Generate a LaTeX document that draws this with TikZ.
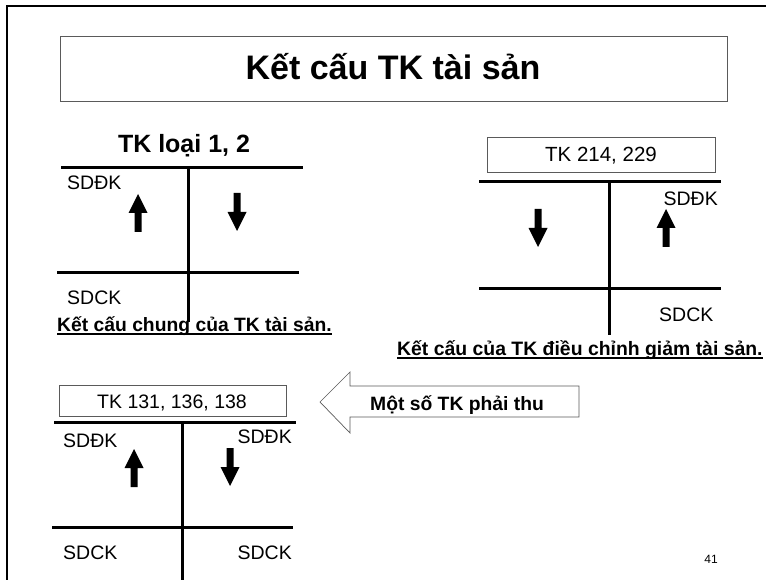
\documentclass[tikz,border=0pt]{standalone}
\usepackage{fontspec}
\setmainfont{Liberation Sans}
\definecolor{boxgray}{RGB}{90,90,90}
\begin{document}
\begin{tikzpicture}[x=1pt,y=-1pt,
  tline/.style={line width=3pt,black},
  lbl/.style={inner sep=0pt,font=\fontsize{19.5}{23}\selectfont},
  captxt/.style={inner sep=0pt,font=\fontsize{19.3}{23}\selectfont\bfseries},
  tkbox/.style={draw=boxgray,line width=0.9pt,fill=white},
  uline/.style={line width=1.6pt,black},
  uparr/.pic={\fill[black] (-3.5,0) -- (-3.5,-19) -- (-9.5,-19) -- (0,-38) -- (9.5,-19) -- (3.5,-19) -- (3.5,0) -- cycle;}
]
\useasboundingbox (0,0) rectangle (766,580);
\fill[white] (0,0) rectangle (766,580);
% slide frame
\draw[line width=2.2pt] (7,580) -- (7,6) -- (766,6);
% title
\draw[tkbox] (60,36) rectangle (727,101);
\node[inner sep=0pt,anchor=base,font=\fontsize{34}{40}\selectfont\bfseries] (title) at (393,80) {Kết cấu TK tài sản};

% ---- T account 1
\node[inner sep=0pt,anchor=base,font=\fontsize{25}{30}\selectfont\bfseries] (t1h) at (184,153) {TK loại 1, 2};
\draw[tline] (61,168) -- (303,168);
\draw[tline] (188,168) -- (188,322);
\draw[tline] (57,273) -- (299,273);
\node[lbl,anchor=base west] (t1a) at (67,190) {SDĐK};
\node[lbl,anchor=base west] (t1b) at (67,305) {SDCK};
\pic at (138,232) {uparr};
\pic[rotate=180] at (237,193) {uparr};
\node[captxt,anchor=base west] (c1) at (57,331) {Kết cấu chung của TK tài sản.};
\draw[uline] ([yshift=-3pt]c1.base west) -- ([yshift=-3pt]c1.base east);

% ---- T account 2
\draw[tkbox] (487,137) rectangle (715,172);
\node[lbl,anchor=base,font=\fontsize{20.5}{24}\selectfont] (t2h) at (601,162) {TK 214, 229};
\draw[tline] (479,182) -- (721,182);
\draw[tline] (609,182) -- (609,335);
\draw[tline] (479,288) -- (721,288);
\node[lbl,anchor=base east] (t2a) at (718,206) {SDĐK};
\node[lbl,anchor=base west] (t2b) at (659,321) {SDCK};
\pic[rotate=180] at (538,209) {uparr};
\pic at (666,247) {uparr};
\node[captxt,anchor=base west,font=\fontsize{19.4}{23}\selectfont\bfseries] (c2) at (397,355) {Kết cấu của TK điều chỉnh giảm tài sản.};
\draw[uline] ([yshift=-3pt]c2.base west) -- ([yshift=-3pt]c2.base east);

% ---- T account 3
\draw[tkbox] (59,385) rectangle (286,416);
\node[lbl,anchor=base] (t3h) at (172,408) {TK 131, 136, 138};
\draw[tline] (54,422) -- (296,422);
\draw[tline] (182,422) -- (182,580);
\draw[tline] (52,527) -- (293,527);
\node[lbl,anchor=base west] (t3a) at (63,447) {SDĐK};
\node[lbl,anchor=base east] (t3b) at (292,443) {SDĐK};
\node[lbl,anchor=base west] (t3c) at (63,559) {SDCK};
\node[lbl,anchor=base east] (t3d) at (292,559) {SDCK};
\pic at (134,487) {uparr};
\pic[rotate=180] at (230,448) {uparr};

% ---- block arrow
\draw[boxgray,line width=0.7pt,fill=white] (320,402) -- (350,372) -- (350,386) -- (579,386) -- (579,417) -- (350,417) -- (350,433) -- cycle;
\node[captxt,anchor=base west] (ba) at (370,410) {Một số TK phải thu};

% page number
\node[inner sep=0pt,anchor=base,font=\fontsize{12}{14}\selectfont] (pg) at (711,563) {41};
\end{tikzpicture}
\end{document}
